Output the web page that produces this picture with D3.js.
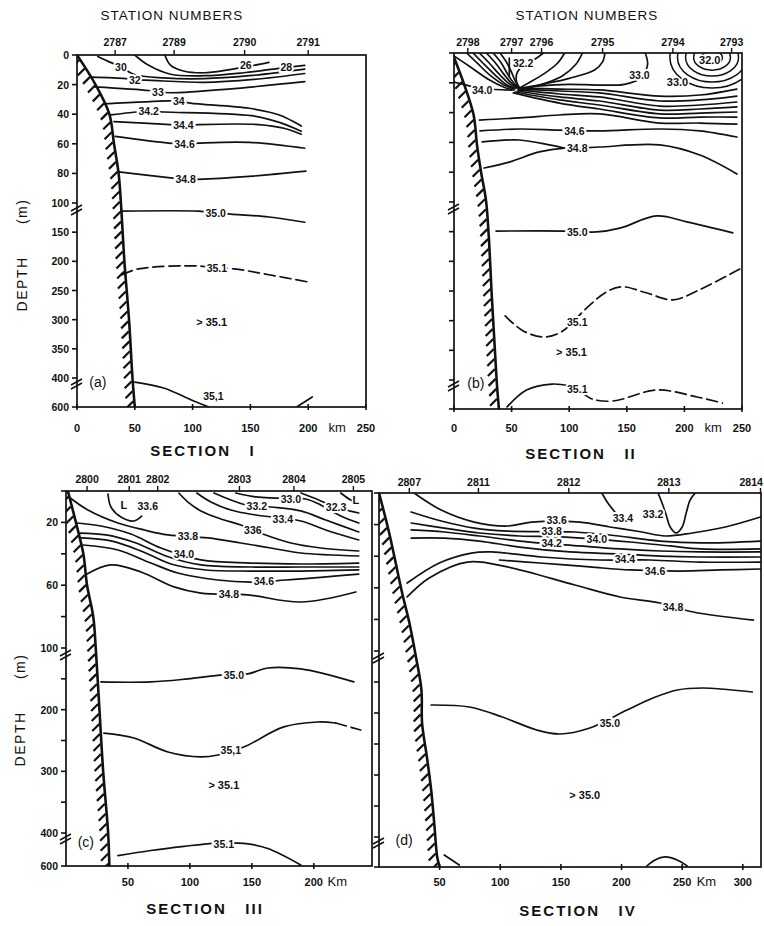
<!DOCTYPE html>
<html><head><meta charset="utf-8">
<script src="https://cdn.jsdelivr.net/npm/d3@7"></script>
<style>
body{margin:0;background:#fff}
svg{display:block}
text{font-family:"Liberation Sans",Arial,sans-serif;fill:#111;white-space:pre}
</style></head>
<body><svg width="764" height="926"></svg>
<script>
// ---------- shared axis data ----------
const depthDomain=[0,100,400,600];
const depthTicks=[0,20,40,60,80,100,150,200,250,300,350,400,600];
const depthLabelsA=["0","20","40","60","80","100","150","200","250","300","350","400","600"];
const depthLabelsC=["","20","","60","","100","","200","","300","","400","600"];

// ---------- SECTION I ----------
const secI_stations=["2787","2789","2790","2791"];
const secI_stationKm=[33,84,145,200];
const secI_kmTicks=[0,50,100,150,200,250];
const secI_coast=[[0,0],[16,20],[28,40],[32,60],[36,80],[38,100],[41,200],[45,300],[48,400],[50,600]];
const secI_lines=[
 [[76,0],[81,7],[93,11],[110,12],[131,10],[153,7],[166,5]],
 [[50,0],[62,7],[81,13],[110,14],[144,12],[175,9],[197,7]],
 [[18,1],[29,5],[38,8],[49,13],[75,15.5],[110,16],[149,14],[197,9.5]],
 [[12,15],[42,16],[50,17],[59,17],[110,18.5],[153,16.5],[197,12.5]],
 [[15,21.5],[62,24],[70,25],[81,25.5],[131,23],[197,18]],
 [[24,33],[79,31],[88,31],[98,32.5],[149,36],[175,40.5],[194,48]],
 [[29,40.5],[51,38.5],[62,38],[75,38.5],[151,41],[175,45.5],[194,51.5]],
 [[32,45],[81,47],[92,47.5],[105,47],[157,47],[179,49.5],[194,53.5]],
 [[33,55],[79,59.5],[93,60],[105,59.5],[149,59],[197,63]],
 [[36,79],[81,83],[94,84],[105,84],[149,82],[198,78.5]],
 [[38,114],[105,114],[120,117],[133,119],[166,124],[197,133]],
 [[39,223],[53,213],[105,208],[121,212],[136,213],[166,223],[199,235]],
 [[50,428],[75,469],[101,559],[114,600]],
 [[190,600],[203.5,531]]
];
const secI_values=["26","28","30","32","33","34","34.2","34.4","34.6","34.8","35.0","35.1","35,1",""];
const secI_labelPos=[[146,7],[181,8],[38,8],[50,17],[70,25],[88,31],[62,38],[92,47.5],[93,60],[94,84],[120,117],[121,212],[118,525],null];
const secI_dashed=[0,0,0,0,0,0,0,0,0,0,0,1,0,0];
const secI_notes=["> 35.1","(a)"];
const secI_notePos=[[116.5,304],[18,428]];

// ---------- SECTION II ----------
const secII_stations=["2798","2797","2796","2795","2794","2793"];
const secII_stationKm=[12,50,76,129,190,241];
const secII_kmTicks=[0,50,100,150,200,250];
const secII_coast=[[0,3],[9,21.5],[17,41.5],[20,62],[23.5,80],[28,101],[33,265],[37,400],[39,600]];
const secII_lines=[
 [[0,2],[13,8.7],[30.5,18],[43.5,23],[52,25]],
 [[11,0],[20,6.7],[32,15.4],[43.5,21.5],[52,24]],
 [[16.5,0],[25,6.7],[36,15],[45,21],[53,24]],
 [[22,0],[30.5,6.7],[39,14],[47,20],[54,23.5]],
 [[28,0],[36,6.7],[43,14],[49,19.5],[55,23.5]],
 [[34,0],[41,6.7],[46,13.4],[50.5,18.8],[56,23.5]],
 [[40,0],[46,6.7],[50,13],[53,18.5],[57,23.5]],
 [[77.5,0],[70.5,4],[61,7.4],[55,12.8],[54,18],[56.5,23.5]],
 [[48,3.4],[48,16]],
 [[96,0],[90,6.7],[78,14],[65,20],[57,23.5]],
 [[111.5,0],[106,7.4],[94,15.4],[74,21.5],[58,24]],
 [[131,0],[129,6],[122,11.4],[100,17],[80,20.5],[59,23.5]],
 [[166,0],[168,8],[161,17.4],[148,21],[126,21.5],[100,21],[75,22],[61,23.5]],
 [[0,19.5],[17.5,23],[24.5,25],[35,24.5],[50,25]],
 [[57.5,23.5],[91.5,24.2],[126,24.8],[178.5,28.9],[213.5,28.2],[245.5,24.2]],
 [[56.5,24.2],[91.5,25.5],[126,26.8],[178.5,32.2],[213.5,31.5],[245.5,28.9]],
 [[55.5,24.8],[91.5,27.5],[126,29.5],[178.5,35.6],[213.5,34.9],[245.5,32.9]],
 [[55,25.5],[91.5,29.5],[126,32.2],[178.5,38.3],[213.5,37.6],[245.5,36.2]],
 [[53,26.2],[91.5,31.5],[126,34.9],[178.5,40.9],[213.5,40.3],[245.5,39.6]],
 [[51.5,26.8],[91.5,33.6],[126,37.6],[178.5,43.6],[213.5,43],[245.5,43]],
 [[22,45],[56.6,43.6],[91.5,41.6],[126.3,40.9],[178.6,47],[213.4,47],[245.6,47.7]],
 [[22.6,52.3],[56.6,51],[91.5,51.7],[126.3,52.3],[178.6,51],[213.4,52.3],[245.6,56.4]],
 [[24.4,59.7],[56.6,58.4],[82.8,61.7],[95.8,63.8]],
 [[26.1,77.2],[47.9,73.2],[74,66.4],[95.8,63.8],[107.1,63.8],[126.3,63.1],[178.6,61.7],[213.4,68.5],[245.6,81.2]],
 [[36.5,149],[96,149],[124,150.5],[144,144],[176,123.5],[202,133.5],[242,152]],
 [[44.4,292],[59,316],[77,327.5],[93,319],[115,279],[132,252],[146,243],[167,253],[190,265],[213,248],[248,213]],
 [[46,586],[63,469],[85,428],[100,440]],
 [[112,490],[120,531],[138,545],[176,469],[211,517],[233,559]]
];
const secII_values=["","","","","","","","32.2","","","","","33.0","34.0","","","","","","","","34.6","","34.8","35.0","35.1","35.1",""];
const secII_labelPos=[null,null,null,null,null,null,null,[60,7],null,null,null,null,[161,14.8],[24.5,25],null,null,null,null,null,null,null,[104.5,52.3],null,[107,63.8],[107,150],[107,302],[107,462],null];
const secII_dashed=[0,0,0,0,0,0,0,0,0,0,0,0,0,0,0,0,0,0,0,0,0,0,0,0,0,1,0,1];
const secII_eddyCenter=[224,3];
const secII_eddyRx=[9,16,23,30,36.6];
const secII_eddyRy=[4.5,8.5,12.5,16.5,20.5];
const secII_notes=["> 35.1","(b)","32.0","33.0"];
const secII_notePos=[[102,353],[19,421],[222,4.7],[194,19.5]];

// ---------- SECTION III ----------
const secIII_stations=["2800","2801","2802","2803","2804","2805"];
const secIII_stationKm=[17,51,74,140,184,232];
const secIII_kmTicks=[50,100,150,200];
const secIII_coast=[[1.5,0],[8,20],[14,40],[17,60],[22,80],[24,100],[27,200],[30,300],[34,400],[35,600]];
const secIII_lines=[
 [[33.9,1.9],[36.3,10.2],[44.4,16.6],[54.8,19.1],[61,16]],
 [[91.1,1.3],[99.2,7.6],[108.9,12.7],[125,17.8],[141.1,21.7],[158.9,27.4],[181.5,33.1],[205.6,36.3],[236.3,38.2]],
 [[105.6,1.3],[116.9,7],[133.1,12.1],[153.2,15.3],[189.5,19.1],[209.7,24.8],[236.3,31.2]],
 [[119.4,1.3],[133.1,5.7],[145.2,8.9],[165.3,10.2],[189.5,12.7],[209.7,18.5],[236.3,26.1]],
 [[137.1,1.3],[153.2,3.8],[169.4,4.5],[193.5,5.1],[205.6,8.9],[221.8,15.9],[236.3,20.4]],
 [[189.5,1.3],[204,5.7],[217.7,10.2],[236.3,14]],
 [[221.8,1.3],[229.8,5.7],[236.3,7.6]],
 [[2.4,3.8],[17.7,12.1],[41.9,20.4],[62.9,24.8],[82.3,28],[114.5,29.9],[141.1,33.1],[165.3,36.3],[189.5,39.5],[236.3,41.4]],
 [[8.9,20.4],[28.2,22.3],[52.4,27.4],[76.6,36.3],[108.9,43.9],[149.2,45.9],[189.5,46.5],[236.3,45.9]],
 [[11.3,26.8],[32.3,28],[56.5,33.1],[80.6,41.4],[108.9,47.1],[149.2,48.4],[189.5,48.4],[236.3,48.4]],
 [[12.1,29.9],[36.3,31.8],[60.5,38.2],[84.7,46.5],[112.9,50.3],[149.2,51],[189.5,51],[236.3,50.3]],
 [[13.7,34.4],[41.9,37.6],[68.5,45.9],[90.3,52.2],[122.6,56.7],[149.2,58],[177.4,56.7],[236.3,52.9]],
 [[16.9,52.9],[36.3,47.1],[60.5,51.6],[87.1,61.1],[108.9,65],[146.8,66.2],[189.5,70.7],[233.9,64.3]],
 [[28.2,155],[68.5,155],[98.4,150],[125,144],[146.8,142],[162.9,132.4],[189.5,134],[232.3,155]],
 [[30.6,238],[54.8,246],[82.3,268.6],[108.9,276.7],[122.6,273.5],[143.5,260.5],[175.8,228],[203.2,220],[217.7,221.6]],
 [[217.7,221.6],[237.9,233]],
 [[41.9,537.5],[68.5,506],[95.2,481],[119.4,462.5],[143.5,462.5],[162.9,494],[189.5,594]]
];
const secIII_values=["33.6","336","33.4","33.2","33.0","32.3","","33.8","34.0","","","34.6","34.8","35.0","35,1","","35.1"];
const secIII_labelPos=[[66,9.6],[150.8,24.8],[175,17.8],[154,9.3],[181.5,4.8],[218,10.5],null,[98.4,28.7],[95.2,40],null,null,[159.7,57.3],[131.5,65.6],[135.5,143],[133,266],null,[127.4,466]];
const secIII_dashed=[0,0,0,0,0,0,0,0,0,0,0,0,0,0,0,1,0];
const secIII_notes=["> 35.1","(c)","L","L"];
const secIII_notePos=[[127.4,322],[16,456],[46.8,9],[234,6]];

// ---------- SECTION IV ----------
const secIV_stations=["2807","2811","2812","2813","2814"];
const secIV_stationKm=[25,82,156.5,239,314.6];
const secIV_kmTicks=[50,100,150,200,250,300];
const secIV_coast=[[0,0],[8.3,25],[19,63],[25,82],[30.5,110],[35,163],[35.5,216],[39.5,271],[43,324],[45.5,377],[48,533],[50,600]];
const secIV_lines=[
 [[29,0],[51.3,10.8],[78.6,18.4],[106,20.9],[125.8,18.4],[165.6,18.4],[190.4,21.5],[216.9,24.7],[235.9,27.2],[258.3,25.3],[285.6,21.5],[314.6,15.2]],
 [[26.5,12],[51.3,17.7],[78.6,22.2],[106,24.1],[161.4,24.7],[190.4,26.6],[231.8,30.4],[264.9,31.6],[314.6,30.4]],
 [[26.5,19],[53.8,22.2],[82.8,25.3],[115.9,27.2],[149,27.8],[207,31],[240.1,33.5],[264.9,35.4],[314.6,35.4]],
 [[26.5,23.4],[53.8,24.7],[82.8,27.2],[115.9,30.4],[165.6,33.5],[198.7,35.4],[231.8,36.7],[264.9,37.3],[314.6,37.3]],
 [[26.5,28.5],[53.8,28.5],[82.8,30.4],[115.9,34.2],[157.3,37.3],[198.7,38.6],[231.8,39.9],[264.9,40.5],[314.6,40.5]],
 [[23.2,57],[49.7,44.3],[76.2,38],[92.7,37.3],[134.1,40.5],[182.1,42.4],[223.5,42.4],[264.9,43.7],[314.6,43.7]],
 [[99.3,42.4],[132.5,44.3],[173.8,46.8],[207,48.7],[248.3,49.4],[281.5,48.7],[314.6,48.1]],
 [[23.2,65.8],[41.4,53.8],[72.8,43.7],[106,46.8],[161.4,58.2],[198.7,65.8],[231.8,69.6],[259.1,75.3],[308.8,80.4]],
 [[183.8,0],[188.7,6.3],[194.5,12]],
 [[230.1,0],[233.4,6.3],[236.8,13.9],[240.1,21.5],[245,25.3],[250,21.5],[253.3,12.7],[256.6,4.4],[260.8,0]],
 [[43,187.1],[74.5,190.3],[101.8,206.5],[130,227.4],[149,233.9],[173.8,224.2],[204.5,195.2],[226,175.8],[245.9,162.9],[267.4,159.7],[307.9,166.1]],
 [[53.8,520],[66.2,586.7]],
 [[221,593],[227.6,553],[235.9,533],[245.9,553],[254.1,593]]
];
const secIV_values=["33.6","33.8","34.0","34.2","","34.4","34.6","34.8","33.4","33.2","35.0","",""];
const secIV_labelPos=[[146.5,17.1],[142.4,24.1],[179.6,29.1],[142.4,31.6],null,[202.8,41.8],[227.6,49.4],[242.5,72.2],[201.2,15.8],[226,13],[190.4,216.1],null,null];
const secIV_dashed=[0,0,0,0,0,0,0,0,0,0,0,0,0];
const secIV_notes=["> 35.0","(d)"];
const secIV_notePos=[[169.7,332],[20.7,420]];

// ---------- layout (positions only) ----------
const layout=[
 {id:"a",km:250,xr:[77,366],yr:[55,203,378,407],stY:46,kmY:432,depthLabels:depthLabelsA,kmWord:"km",kmWordKm:225,
  stations:secI_stations,stKm:secI_stationKm,kmTicks:secI_kmTicks,coast:secI_coast,lines:secI_lines,values:secI_values,labelPos:secI_labelPos,dashed:secI_dashed,notes:secI_notes,notePos:secI_notePos},
 {id:"b",km:250,xr:[454,742],yr:[53,202,380,409],stY:46,kmY:432,depthLabels:null,kmWord:"km",kmWordKm:225,
  stations:secII_stations,stKm:secII_stationKm,kmTicks:secII_kmTicks,coast:secII_coast,lines:secII_lines,values:secII_values,labelPos:secII_labelPos,dashed:secII_dashed,notes:secII_notes,notePos:secII_notePos},
 {id:"c",km:247,xr:[66,372],yr:[491,648,833,866],stY:483,kmY:886,depthLabels:depthLabelsC,kmWord:"Km",kmWordKm:219,
  stations:secIII_stations,stKm:secIII_stationKm,kmTicks:secIII_kmTicks,coast:secIII_coast,lines:secIII_lines,values:secIII_values,labelPos:secIII_labelPos,dashed:secIII_dashed,notes:secIII_notes,notePos:secIII_notePos},
 {id:"d",km:315,xr:[379,761],yr:[493,651,837,867],stY:486,kmY:886,depthLabels:null,kmWord:"Km",kmWordKm:270,
  stations:secIV_stations,stKm:secIV_stationKm,kmTicks:secIV_kmTicks,coast:secIV_coast,lines:secIV_lines,values:secIV_values,labelPos:secIV_labelPos,dashed:secIV_dashed,notes:secIV_notes,notePos:secIV_notePos}
];

const svg=d3.select("svg");
const ink="#111";
const SVGW=764;

function keepInside(sel){
  const b=sel.node().getBBox();
  if(b.x+b.width>SVGW-1){
    sel.attr("x",+sel.attr("x")-(b.x+b.width-(SVGW-1)));
  }
}

layout.forEach(cfg=>{
  const x=d3.scaleLinear().domain([0,cfg.km]).range(cfg.xr);
  const y=d3.scaleLinear().domain(depthDomain).range(cfg.yr);
  const x0=x(0),x1=x(cfg.km),y0=cfg.yr[0],y1=cfg.yr[3];
  const g=svg.append("g");
  const cid="clip-"+cfg.id;
  svg.append("clipPath").attr("id",cid).append("rect")
    .attr("x",x0).attr("y",y0).attr("width",x1-x0).attr("height",y1-y0);
  const inner=g.append("g").attr("clip-path",`url(#${cid})`);
  const line=d3.line().x(d=>x(d[0])).y(d=>y(d[1])).curve(d3.curveCatmullRom.alpha(0.5));

  cfg.lines.forEach((pts,i)=>{
    inner.append("path").attr("d",line(pts)).attr("fill","none")
      .attr("stroke",ink).attr("stroke-width",1.7).attr("stroke-linecap","round")
      .attr("stroke-dasharray",cfg.dashed[i]?"11,5":null);
  });
  if(cfg.id==="b"){
    secII_eddyRx.forEach((rx,i)=>{
      const c=secII_eddyCenter;
      inner.append("ellipse").attr("cx",x(c[0])).attr("cy",y(c[1]))
        .attr("rx",x(c[0]+rx)-x(c[0])).attr("ry",y(c[1]+secII_eddyRy[i])-y(c[1]))
        .attr("fill","none").attr("stroke",ink).attr("stroke-width",1.5);
    });
  }
  cfg.values.forEach((v,i)=>{
    const p=cfg.labelPos[i]; if(!v||!p) return;
    inner.append("text").attr("x",x(p[0])).attr("y",y(p[1]))
      .attr("text-anchor","middle").attr("dominant-baseline","central")
      .attr("font-size",10.5).attr("font-weight","bold")
      .attr("stroke","#fff").attr("stroke-width",4).attr("paint-order","stroke")
      .text(v);
  });
  const cp=inner.append("path").attr("d",line(cfg.coast)).attr("fill","none")
    .attr("stroke",ink).attr("stroke-width",2.6);
  const node=cp.node(),L=node.getTotalLength();
  for(let s=6;s<L-2;s+=10){
    const q=node.getPointAtLength(s);
    inner.append("line").attr("x1",q.x-1).attr("y1",q.y).attr("x2",q.x-8).attr("y2",q.y+7)
      .attr("stroke",ink).attr("stroke-width",2.2);
  }
  cfg.notes.forEach((t,i)=>{
    const p=cfg.notePos[i];
    const isPanel=t.startsWith("(");
    g.append("text").attr("x",x(p[0])).attr("y",y(p[1]))
      .attr("text-anchor","middle").attr("dominant-baseline","central")
      .attr("font-size",isPanel?14:11).attr("font-weight",isPanel?"normal":"bold")
      .attr("stroke","#fff").attr("stroke-width",isPanel?0:3).attr("paint-order","stroke")
      .text(t);
  });
  g.append("rect").attr("x",x0).attr("y",y0).attr("width",x1-x0).attr("height",y1-y0)
    .attr("fill","none").attr("stroke",ink).attr("stroke-width",1.7);
  depthTicks.forEach((t,i)=>{
    g.append("line").attr("x1",x0-5).attr("x2",x0).attr("y1",y(t)).attr("y2",y(t))
      .attr("stroke",ink).attr("stroke-width",1.6);
    if(cfg.depthLabels&&cfg.depthLabels[i]){
      g.append("text").attr("x",x0-8).attr("y",y(t)).attr("text-anchor","end")
        .attr("dominant-baseline","central").attr("font-size",10.5).attr("font-weight","bold")
        .text(cfg.depthLabels[i]);
    }
  });
  [y(100)+5,y(400)+4].forEach(yy=>{
    [0,4].forEach(o=>{
      g.append("line").attr("x1",x0-6).attr("y1",yy+o+3).attr("x2",x0+5).attr("y2",yy+o-3)
        .attr("stroke",ink).attr("stroke-width",1.5);
    });
  });
  cfg.kmTicks.forEach(t=>{
    g.append("line").attr("x1",x(t)).attr("x2",x(t)).attr("y1",y1-3).attr("y2",y1+3)
      .attr("stroke",ink).attr("stroke-width",1.6);
    const tx=g.append("text").attr("x",x(t)).attr("y",cfg.kmY).attr("text-anchor","middle")
      .attr("font-size",11).attr("font-weight","bold").text(t);
    keepInside(tx);
  });
  g.append("text").attr("x",x(cfg.kmWordKm)).attr("y",cfg.kmY).attr("text-anchor","middle")
    .attr("font-size",13).text(cfg.kmWord);
  cfg.stKm.forEach((k,i)=>{
    g.append("line").attr("x1",x(k)).attr("x2",x(k)).attr("y1",y0).attr("y2",y0-5)
      .attr("stroke",ink).attr("stroke-width",1.4);
    const st=g.append("text").attr("x",x(k)).attr("y",cfg.stY).attr("text-anchor","middle")
      .attr("font-size",10.5).attr("font-weight","bold").text(cfg.stations[i]);
    keepInside(st);
  });
});

[["STATION NUMBERS",172,20],["STATION NUMBERS",587,20]].forEach(d=>{
  svg.append("text").attr("x",d[1]).attr("y",d[2]).attr("text-anchor","middle")
    .attr("font-size",13.5).attr("letter-spacing",1).text(d[0]);
});
[["SECTION   I",203,456],["SECTION   II",581,459],["SECTION   III",205,914],["SECTION   IV",578,916]].forEach(d=>{
  svg.append("text").attr("x",d[1]).attr("y",d[2]).attr("text-anchor","middle")
    .attr("font-size",15).attr("font-weight","bold").attr("letter-spacing",2).text(d[0]);
});
[[22,255],[20,710]].forEach(d=>{
  svg.append("text").attr("transform",`translate(${d[0]},${d[1]}) rotate(-90)`)
    .attr("text-anchor","middle").attr("dominant-baseline","central")
    .attr("font-size",14).attr("letter-spacing",1.5).text("DEPTH      (m)");
});
</script></body></html>
